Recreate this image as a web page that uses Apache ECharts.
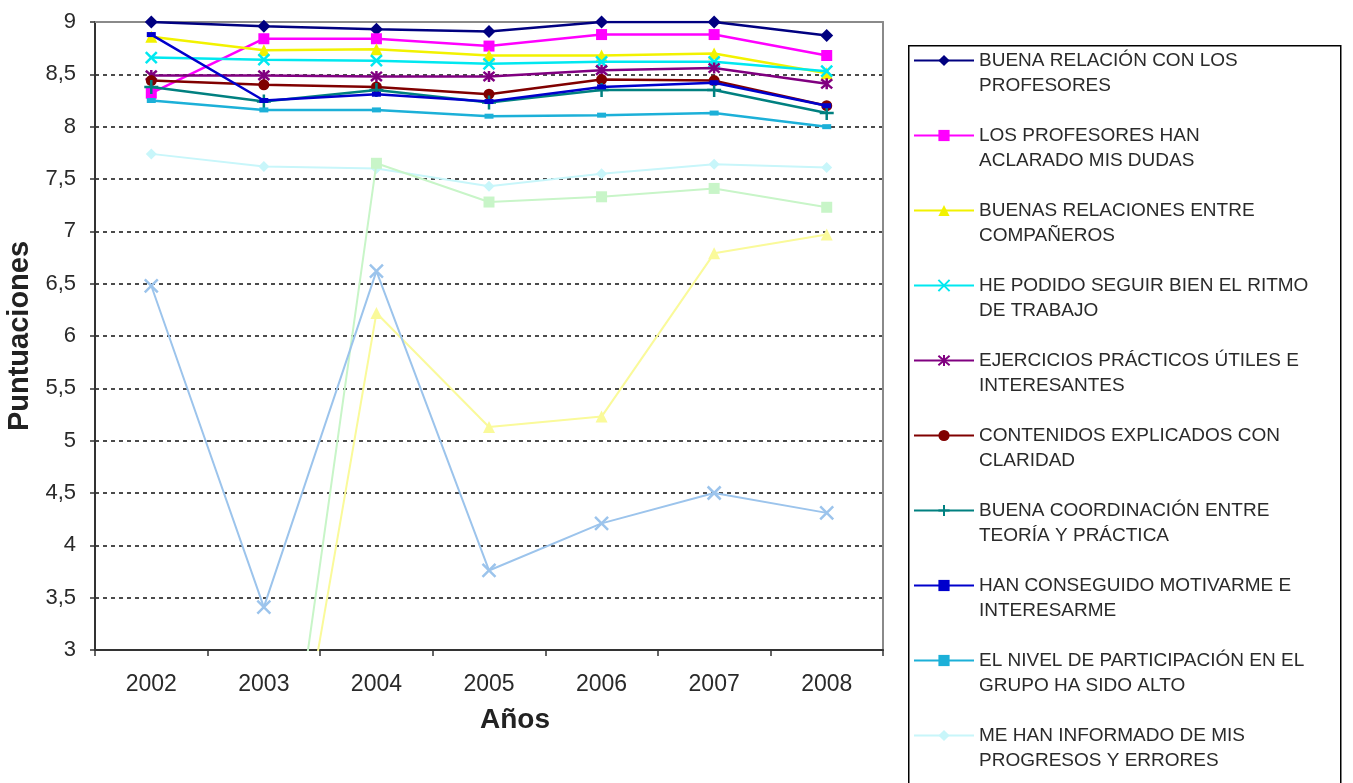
<!DOCTYPE html>
<html>
<head>
<meta charset="utf-8">
<script src="https://cdn.jsdelivr.net/npm/echarts@6/dist/echarts.min.js"></script>
<style>html,body{margin:0;padding:0;background:#fff}#c{width:1353px;height:783px}</style>
</head>
<body>
<div id="c"></div>
<script>
const years = ['2002','2003','2004','2005','2006','2007','2008'];
const yTicks = [3,3.5,4,4.5,5,5.5,6,6.5,7,7.5,8,8.5,9];

const relacionProfesores = [9.0, 8.96, 8.93, 8.91, 9.0, 9.0, 8.87];
const aclaradoDudas      = [8.32, 8.84, 8.84, 8.77, 8.88, 8.88, 8.68];
const relacionCompaneros = [8.86, 8.73, 8.74, 8.68, 8.68, 8.70, 8.51];
const ritmoTrabajo       = [8.66, 8.64, 8.63, 8.60, 8.62, 8.62, 8.53];
const ejercicios         = [8.49, 8.49, 8.48, 8.48, 8.54, 8.56, 8.41];
const contenidos         = [8.44, 8.40, 8.38, 8.31, 8.45, 8.44, 8.20];
const coordinacion       = [8.38, 8.24, 8.35, 8.23, 8.35, 8.35, 8.13];
const motivarme          = [8.88, 8.25, 8.31, 8.24, 8.38, 8.42, 8.20];
const participacion      = [8.25, 8.16, 8.16, 8.10, 8.11, 8.13, 8.00];
const informado          = [7.74, 7.62, 7.60, 7.43, 7.55, 7.64, 7.61];
const serie11            = [0, 0, 7.65, 7.28, 7.33, 7.41, 7.23];
const serie12            = [0, 0, 6.22, 5.13, 5.23, 6.79, 6.97];
const serie13            = [6.48, 3.41, 6.62, 3.76, 4.21, 4.50, 4.31];

const names = [
  'BUENA RELACIÓN CON LOS\nPROFESORES',
  'LOS PROFESORES HAN\nACLARADO MIS DUDAS',
  'BUENAS RELACIONES ENTRE\nCOMPAÑEROS',
  'HE PODIDO SEGUIR BIEN EL RITMO\nDE TRABAJO',
  'EJERCICIOS PRÁCTICOS ÚTILES E\nINTERESANTES',
  'CONTENIDOS EXPLICADOS CON\nCLARIDAD',
  'BUENA COORDINACIÓN ENTRE\nTEORÍA Y PRÁCTICA',
  'HAN CONSEGUIDO MOTIVARME E\nINTERESARME',
  'EL NIVEL DE PARTICIPACIÓN EN EL\nGRUPO HA SIDO ALTO',
  'ME HAN INFORMADO DE MIS\nPROGRESOS Y ERRORES',
  'Serie 11', 'Serie 12', 'Serie 13'
];

const X = 'path://M0,0L10,10M10,0L0,10';
const STAR = 'path://M0,0L10,10M10,0L0,10M5,-1L5,11';
const PLUS = 'path://M5,0L5,10M3,5L7,5';
const FONT = 'Liberation Sans, Arial, sans-serif';

const defs = [
  {d: relacionProfesores, c: '#000080', s: 'diamond', sz: 13, w: 2.5},
  {d: aclaradoDudas, c: '#FF00FF', s: 'rect', sz: 11, w: 2.5},
  {d: relacionCompaneros, c: '#F2F200', s: 'triangle', sz: 12, w: 2.5},
  {d: ritmoTrabajo, c: '#00E8F0', s: X, sz: 11, w: 2.5, stroke: true},
  {d: ejercicios, c: '#800080', s: STAR, sz: 11, w: 2.5, stroke: true},
  {d: contenidos, c: '#800000', s: 'circle', sz: 11, w: 2.5},
  {d: coordinacion, c: '#008080', s: PLUS, sz: 14, w: 2.5, stroke: true},
  {d: motivarme, c: '#0000CC', s: 'rect', sz: [9, 5], w: 2.5},
  {d: participacion, c: '#1CB0D8', s: 'rect', sz: [9, 5], w: 2.5},
  {d: informado, c: '#C8F6FA', s: 'diamond', sz: 11, w: 2},
  {d: serie11, c: '#C8F5C8', s: 'rect', sz: 11, w: 2},
  {d: serie12, c: '#FAFA9A', s: 'triangle', sz: 12, w: 2},
  {d: serie13, c: '#9CC4EC', s: X, sz: 13, w: 2, stroke: true}
];

const series = defs.map((o, i) => ({
  name: names[i],
  type: 'line',
  data: o.d,
  symbol: o.s,
  symbolSize: o.sz,
  showAllSymbol: true,
  clip: true,
  z: 2 + i,
  lineStyle: {color: o.c, width: o.w},
  itemStyle: o.stroke ? {color: o.c, borderColor: o.c, borderWidth: 2.5} : {color: o.c},
  emphasis: {disabled: true}
}));

const chart = echarts.init(document.getElementById('c'), null, {renderer: 'canvas'});
chart.setOption({
  animation: false,
  backgroundColor: '#fff',
  grid: {left: 95, top: 22, width: 788, height: 628, show: false, outerBoundsMode: 'none', containLabel: false},
  graphic: [{
    type: 'rect', left: 908, top: 45, z: 0,
    shape: {width: 432, height: 800},
    style: {fill: '#fff', stroke: '#000', lineWidth: 1.5}
  }],
  legend: {
    data: names.slice(0, 10),
    orient: 'vertical',
    left: 913, top: 23,
    itemWidth: 60, itemHeight: 14, itemGap: 0,
    padding: 0,
    selectedMode: false,
    formatter: n => '\n' + n,
    textStyle: {fontFamily: FONT, fontSize: 19, color: '#2a2a2a', lineHeight: 25}
  },
  xAxis: [{
    type: 'category', data: years, boundaryGap: true,
    axisLine: {lineStyle: {color: '#333', width: 2}},
    axisTick: {show: true, length: 6, inside: false, lineStyle: {color: '#333', width: 1.5}},
    axisLabel: {color: '#2a2a2a', fontSize: 23, fontFamily: FONT, margin: 23},
    name: 'Años', nameLocation: 'middle', nameGap: 56,
    nameTextStyle: {fontSize: 28, fontWeight: 'bold', color: '#222', fontFamily: FONT, padding: [0, 0, 0, 52]},
    splitLine: {show: false}
  }, {
    type: 'category', data: years, position: 'top',
    axisLine: {lineStyle: {color: '#8a8a8a', width: 2}},
    axisTick: {show: false}, axisLabel: {show: false}, splitLine: {show: false}
  }],
  yAxis: [{
    type: 'value', min: 3, max: 9, interval: 0.5,
    axisLine: {show: true, lineStyle: {color: '#333', width: 2}},
    axisTick: {show: true, length: 5, lineStyle: {color: '#333', width: 1.5}},
    axisLabel: {
      color: '#2a2a2a', fontSize: 22, fontFamily: FONT, margin: 19,
      formatter: v => String(v).replace('.', ',')
    },
    splitLine: {show: true, lineStyle: {color: '#111', width: 1.5, type: [4, 4]}},
    name: 'Puntuaciones', nameLocation: 'middle', nameGap: 55, nameRotate: 90,
    nameTextStyle: {fontSize: 29, fontWeight: 'bold', color: '#222', fontFamily: FONT}
  }, {
    type: 'value', min: 3, max: 9, interval: 0.5, position: 'right',
    axisLine: {show: true, lineStyle: {color: '#8a8a8a', width: 2}},
    axisTick: {show: false}, axisLabel: {show: false}, splitLine: {show: false}
  }],
  series: series
});
</script>
</body>
</html>
